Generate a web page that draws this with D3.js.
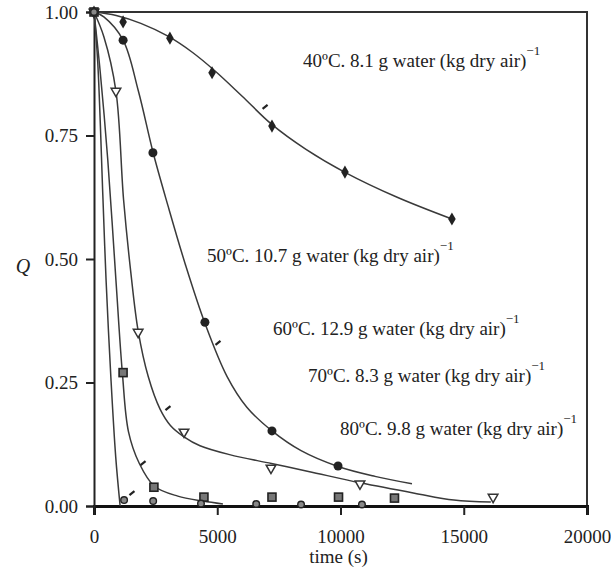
<!DOCTYPE html>
<html>
<head>
<meta charset="utf-8">
<script src="https://cdn.jsdelivr.net/npm/d3@7/dist/d3.min.js"></script>
<style>
  html, body { margin: 0; padding: 0; background: #fff; }
  svg { display: block; }
  text { font-family: "Liberation Serif", "DejaVu Serif", serif; fill: #222; }
</style>
</head>
<body>
<svg id="chart" width="611" height="572"></svg>
<script>
// Drying curves: relative moisture content Q against time for five air temperatures.
const seriesNames = ["40", "50", "60", "70", "80"];
const seriesLabels = [
  "40ºC. 8.1 g water (kg dry air)",
  "50ºC. 10.7 g water (kg dry air)",
  "60ºC. 12.9 g water (kg dry air)",
  "70ºC. 8.3 g water (kg dry air)",
  "80ºC. 9.8 g water (kg dry air)"
];
const xTicks = [0, 5000, 10000, 15000, 20000];
const yTicks = [0, 0.25, 0.5, 0.75, 1.0];

// measured points [time s, Q]
const pts40 = [[0,1],[1180,0.98],[3080,0.947],[4790,0.877],[7220,0.769],[10180,0.676],[14520,0.581]];
const pts50 = [[0,1],[1180,0.943],[2390,0.715],[4500,0.372],[7220,0.152],[9900,0.081]];
const pts60 = [[0,1],[890,0.84],[1790,0.352],[3650,0.15],[7180,0.077],[10790,0.045],[16190,0.018]];
const pts70 = [[0,1],[1180,0.27],[2430,0.038],[4460,0.018],[7220,0.018],[9920,0.018],[12190,0.016]];
const pts80 = [[0,1],[1220,0.012],[2400,0.01],[4340,0.005],[6580,0.004],[8400,0.003],[10870,0.003]];

// replicate readings shown as short dashes
const dash40 = [[6940,0.808]];
const dash50 = [[5030,0.33]];
const dash60 = [[3000,0.198]];
const dash70 = [[1990,0.087]];
const dash80 = [[1540,0.026]];

// fitted model curves [time s, Q]
const fit40 = [[0,1],[900,0.993],[1900,0.977],[3000,0.951],[4000,0.918],[4900,0.881],[6000,0.83],[7200,0.773],[8600,0.722],[10200,0.675],[12300,0.625],[14520,0.581]];
const fit50 = [[0,1],[400,0.99],[1180,0.943],[1800,0.84],[2400,0.715],[3000,0.608],[3700,0.49],[4500,0.37],[5400,0.262],[6200,0.2],[7220,0.152],[8400,0.112],[9900,0.08],[11400,0.06],[12900,0.045]];
const fit60 = [[0,1],[400,0.95],[890,0.84],[1200,0.62],[1500,0.47],[1790,0.355],[2200,0.262],[2680,0.196],[3100,0.163],[3650,0.14],[4300,0.122],[5500,0.104],[7200,0.086],[8700,0.07],[10800,0.047],[13000,0.026],[14600,0.012],[16100,0.008]];
const fit70 = [[0,1],[250,0.88],[560,0.7],[890,0.457],[1150,0.27],[1400,0.15],[1830,0.087],[2450,0.04],[3400,0.02],[4420,0.01],[5230,0.004]];
const fit80 = [[0,1],[150,0.9],[365,0.62],[490,0.457],[690,0.255],[880,0.1],[1060,0.0]];

const allPts = [pts40, pts50, pts60, pts70, pts80];
const allDash = [dash40, dash50, dash60, dash70, dash80];
const allFits = [fit40, fit50, fit60, fit70, fit80];

// label anchors (text start, baseline) in data units [time s, Q]
const labelPos = [[8480, 0.889], [4585, 0.494], [7262, 0.346], [8682, 0.251], [9980, 0.144]];

const svg = d3.select("#chart");
const margin = { left: 94, right: 24, top: 12, bottom: 66 };
const W = 611, H = 572;
const x = d3.scaleLinear().domain([0, 20000]).range([margin.left, W - margin.right]);
const y = d3.scaleLinear().domain([0, 1]).range([H - margin.bottom, margin.top]);

// frame (top and right sides)
svg.append("path")
  .attr("d", `M${x(0)},${y(1)}H${x(20000)}V${y(0)}`)
  .attr("fill", "none").attr("stroke", "#333").attr("stroke-width", 2);

// axes
const xAxis = svg.append("g").attr("transform", `translate(0,${y(0)})`)
  .call(d3.axisBottom(x).tickValues(xTicks).tickSize(9).tickPadding(15).tickFormat(d3.format("d")));
const yAxis = svg.append("g").attr("transform", `translate(${x(0)},0)`)
  .call(d3.axisLeft(y).tickValues(yTicks).tickSize(8).tickPadding(8).tickFormat(d3.format(".2f")));
xAxis.select(".domain").attr("stroke", "#111").attr("stroke-width", 3);
yAxis.select(".domain").attr("stroke", "#222").attr("stroke-width", 2);
[xAxis, yAxis].forEach(g => {
  g.selectAll(".tick line").attr("stroke", "#222").attr("stroke-width", 2);
  g.selectAll(".tick text").style("font-family", "Liberation Serif, serif").style("font-size", "19px").attr("fill", "#333");
});

// axis titles
svg.append("text").attr("x", x(10000) - 2).attr("y", 563).attr("text-anchor", "middle")
  .style("font-size", "19px").text("time (s)");
svg.append("text").attr("x", 23).attr("y", 273).attr("text-anchor", "middle")
  .style("font-size", "20px").style("font-style", "italic").text("Q");

// fitted curves
const line = d3.line().x(d => x(d[0])).y(d => y(d[1])).curve(d3.curveCatmullRom.alpha(0.5));
svg.append("g").selectAll("path").data(allFits).join("path")
  .attr("d", line).attr("fill", "none").attr("stroke", "#3a3a3a").attr("stroke-width", 1.5);

// markers
const markerG = svg.append("g");
allPts.forEach((pts, i) => {
  const g = markerG.append("g");
  pts.forEach(p => {
    const cx = x(p[0]), cy = y(p[1]);
    if (i === 0) {
      g.append("path").attr("d", d3.symbol(d3.symbolDiamond, 50)())
        .attr("transform", `translate(${cx},${cy})`).attr("fill", "#222");
    } else if (i === 1) {
      g.append("circle").attr("cx", cx).attr("cy", cy).attr("r", 4.5).attr("fill", "#222");
    } else if (i === 2) {
      g.append("path").attr("d", d3.symbol(d3.symbolTriangle, 40)())
        .attr("transform", `translate(${cx},${cy}) rotate(180)`)
        .attr("fill", "#fff").attr("stroke", "#333").attr("stroke-width", 1.5);
    } else if (i === 3) {
      g.append("rect").attr("x", cx - 4).attr("y", cy - 4).attr("width", 8).attr("height", 8)
        .attr("fill", "#777").attr("stroke", "#222").attr("stroke-width", 1.6);
    } else {
      g.append("circle").attr("cx", cx).attr("cy", cy).attr("r", 3.3)
        .attr("fill", "#888").attr("stroke", "#222").attr("stroke-width", 1.4);
    }
  });
});

// replicate dashes
svg.append("g").selectAll("line").data(allDash.flat()).join("line")
  .attr("x1", d => x(d[0]) - 2.5).attr("y1", d => y(d[1]) + 2)
  .attr("x2", d => x(d[0]) + 2.5).attr("y2", d => y(d[1]) - 2)
  .attr("stroke", "#222").attr("stroke-width", 2.2);

// series labels with superscript exponent
const labG = svg.append("g");
seriesLabels.forEach((txt, i) => {
  const t = labG.append("text").attr("x", x(labelPos[i][0])).attr("y", y(labelPos[i][1]))
    .style("font-size", "19px");
  t.append("tspan").text(txt);
  t.append("tspan").attr("dy", -12).style("font-size", "13px").text("−1");
});
</script>
</body>
</html>
